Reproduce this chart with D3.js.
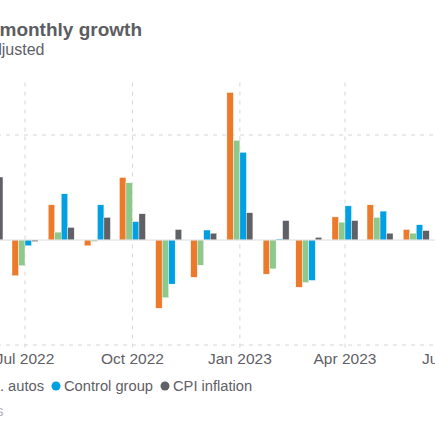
<!DOCTYPE html>
<html>
<head>
<meta charset="utf-8">
<script src="https://cdn.jsdelivr.net/npm/d3@7.9.0/dist/d3.min.js"></script>
<style>
  html, body { margin: 0; padding: 0; background: #fff; overflow: hidden; }
  svg { display: block; font-family: "Liberation Sans", Arial, sans-serif; }
</style>
</head>
<body>
<svg id="chart" width="435" height="435"></svg>
<script>
// monthly data, % change m/m (seasonally adjusted)
const months = ["2022-06", "2022-07", "2022-08", "2022-09", "2022-10", "2022-11", "2022-12",
                "2023-01", "2023-02", "2023-03", "2023-04", "2023-05", "2023-06"];
const retailSales = [1.0, -0.68, 0.67, -0.11, 1.19, -1.30, -0.71, 2.81, -0.65, -0.90, 0.44, 0.67, 0.20];
const exAutos     = [1.0, -0.49, 0.15, -0.03, 1.09, -1.10, -0.48, 1.90, -0.55, -0.81, 0.34, 0.43, 0.13];
const controlGrp  = [0.8, -0.11, 0.88, 0.67, 0.35, -0.84, 0.19, 1.67, 0.02, -0.77, 0.65, 0.55, 0.29];
const cpiInfl     = [1.2, -0.03, 0.24, 0.43, 0.50, 0.20, 0.13, 0.52, 0.37, 0.05, 0.37, 0.13, 0.18];

const seriesNames = ["Retail sales", "Retail sales ex. autos", "Control group", "CPI inflation"];
const seriesColors = ["#ec7a2a", "#8ec88a", "#00a0e2", "#5f6166"];
const xTickLabels = ["2022-04", "2022-07", "2022-10", "2023-01", "2023-04", "2023-07"];
const yGridValues = [-2, 2];

const title = "US retail sales monthly growth";
const subtitle = "%, seasonally adjusted";
const source = "Sources: Census Bureau, Bureau of Labor Statistics";

const svg = d3.select("#chart");
const parse = d3.utcParse("%Y-%m");

// the picture is a crop: the y axis sits left of the frame
const x = d3.scaleUtc()
  .domain([parse("2022-07"), parse("2023-04")])
  .range([25, 345]);
const y = d3.scaleLinear().domain([-2, 3]).range([345, 82.5]);

const plotLeft = -120, plotRight = 440;
const barW = 6.5;
const gridColor = "#d6d6d6";

// gridlines
const grid = svg.append("g");
grid.selectAll("line.v")
  .data(xTickLabels.map(parse))
  .join("line")
  .attr("x1", d => x(d)).attr("x2", d => x(d))
  .attr("y1", y(3)).attr("y2", y(-2) + 3)
  .attr("stroke", gridColor).attr("stroke-dasharray", "4,5");

grid.selectAll("line.h")
  .data(yGridValues)
  .join("line")
  .attr("x1", plotLeft).attr("x2", plotRight)
  .attr("y1", d => y(d)).attr("y2", d => y(d))
  .attr("stroke", gridColor).attr("stroke-dasharray", "4,5");

// bars
const series = [retailSales, exAutos, controlGrp, cpiInfl];
series.forEach((vals, si) => {
  svg.append("g")
    .selectAll("rect")
    .data(vals.map((v, i) => ({ date: parse(months[i]), v })))
    .join("rect")
    .attr("x", d => x(d.date) - 2 * barW + si * barW)
    .attr("width", barW)
    .attr("y", d => y(Math.max(0, d.v)))
    .attr("height", d => Math.abs(y(d.v) - y(0)))
    .attr("fill", seriesColors[si])
    .attr("stroke", "#fff")
    .attr("stroke-width", 0.4);
});

// zero line
svg.append("line")
  .attr("x1", plotLeft).attr("x2", plotRight)
  .attr("y1", y(0)).attr("y2", y(0))
  .attr("stroke", "#dcdcdc").attr("stroke-width", 1);

// x axis labels
const fmt = d3.utcFormat("%b %Y");
svg.append("g")
  .selectAll("text")
  .data(xTickLabels.map(parse))
  .join("text")
  .attr("x", d => x(d))
  .attr("y", 364)
  .attr("text-anchor", "middle")
  .attr("font-size", "15.5px")
  .attr("fill", "#5f6066")
  .text(d => fmt(d));

// titles
svg.append("text")
  .attr("x", 142).attr("y", 36)
  .attr("text-anchor", "end")
  .attr("font-size", "19px").attr("font-weight", "bold")
  .attr("fill", "#5c5d62")
  .text(title);

svg.append("text")
  .attr("x", 44.5).attr("y", 55)
  .attr("text-anchor", "end")
  .attr("font-size", "16px")
  .attr("fill", "#5f6066")
  .text(subtitle);

// legend, laid out left to right then shifted so it lands as in the crop
const legend = svg.append("g");
let lx = 0;
const items = seriesNames.map((name, i) => {
  const g = legend.append("g");
  g.append("circle").attr("cx", 4.5).attr("cy", 386).attr("r", 4.5).attr("fill", seriesColors[i]);
  const t = g.append("text")
    .attr("x", 12.5).attr("y", 391)
    .attr("font-size", "14.7px")
    .attr("fill", "#5f6066")
    .text(name);
  g.attr("transform", `translate(${lx},0)`);
  const start = lx;
  lx += 12.5 + t.node().getComputedTextLength() + 7.5;
  return start;
});
legend.attr("transform", `translate(${51.5 - items[2]},0)`);

// source
svg.append("text")
  .attr("x", 3.5).attr("y", 416)
  .attr("text-anchor", "end")
  .attr("font-size", "15px")
  .attr("fill", "#b3b3b3")
  .text(source);
</script>
</body>
</html>
